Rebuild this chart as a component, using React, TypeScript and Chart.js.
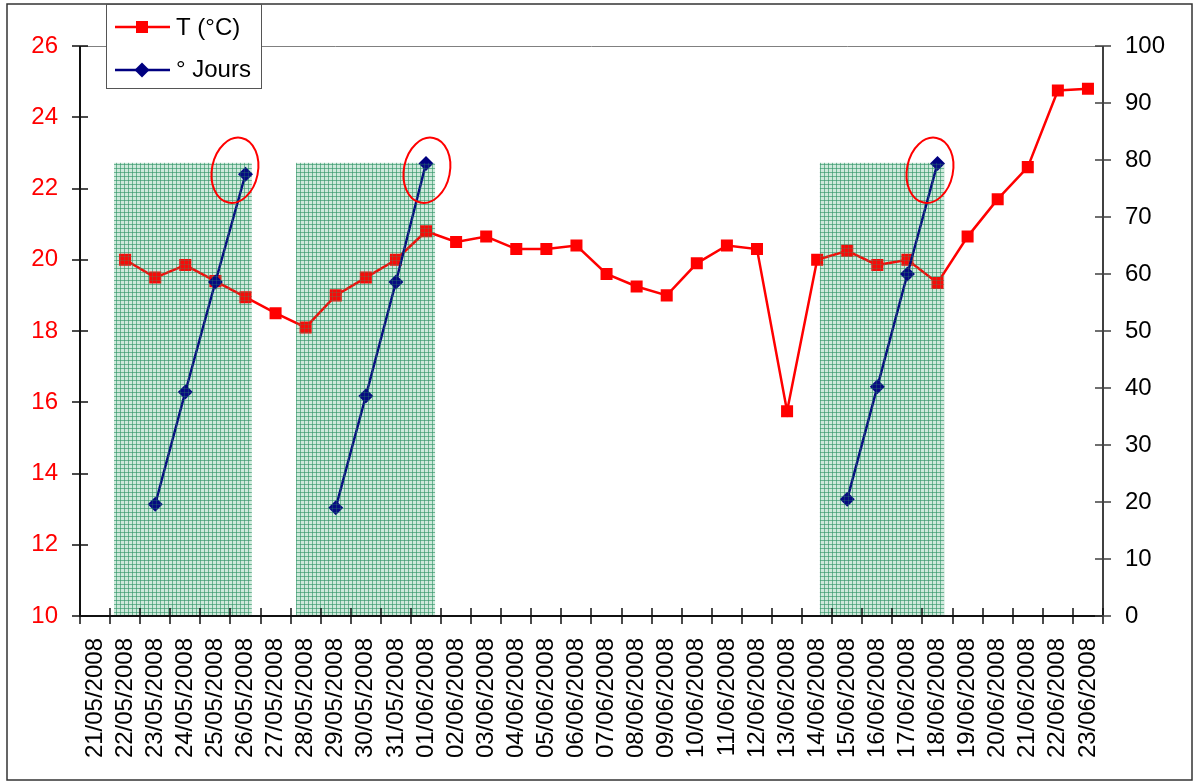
import { useEffect, useRef } from "react";
import { Chart, registerables } from "chart.js";

Chart.register(...registerables);

// Daily dates shown on the category axis
const dates = [
  "21/05/2008", "22/05/2008", "23/05/2008", "24/05/2008", "25/05/2008", "26/05/2008",
  "27/05/2008", "28/05/2008", "29/05/2008", "30/05/2008", "31/05/2008", "01/06/2008",
  "02/06/2008", "03/06/2008", "04/06/2008", "05/06/2008", "06/06/2008", "07/06/2008",
  "08/06/2008", "09/06/2008", "10/06/2008", "11/06/2008", "12/06/2008", "13/06/2008",
  "14/06/2008", "15/06/2008", "16/06/2008", "17/06/2008", "18/06/2008", "19/06/2008",
  "20/06/2008", "21/06/2008", "22/06/2008", "23/06/2008",
];

// Mean daily temperature, °C (left axis)
const temperature = [
  null, 20.0, 19.5, 19.85, 19.4, 18.95, 18.5, 18.1, 19.0, 19.5, 20.0, 20.8,
  20.5, 20.65, 20.3, 20.3, 20.4, 19.6, 19.25, 19.0, 19.9, 20.4, 20.3, 15.75,
  20.0, 20.25, 19.85, 20.0, 19.35, 20.65, 21.7, 22.6, 24.75, 24.8,
];

// Accumulated degree-days over each period (right axis)
const degreeDays = [
  null, null, 19.6, 39.3, 58.6, 77.5, null, null, 19.0, 38.6, 58.6, 79.4,
  null, null, null, null, null, null, null, null, null, null, null, null,
  null, 20.5, 40.2, 60.0, 79.4, null, null, null, null, null,
];

// Shaded periods: [start, end] in category positions, top on the right axis
const shadedPeriods = [
  [0.63, 5.21],
  [6.68, 11.3],
  [24.09, 28.22],
];
const shadedTop = 79.5;

// Circled peaks: [category position, right-axis value]
const circledPeaks = [
  [4.65, 78.2],
  [11.03, 78.2],
  [27.75, 78.2],
];

const leftTickValues = [10, 12, 14, 16, 18, 20, 22, 24, 26];
const rightTickValues = [0, 10, 20, 30, 40, 50, 60, 70, 80, 90, 100];

const FONT = "'Liberation Sans', Arial, sans-serif";
const RED = "#ff0000";
const NAVY = "#000080";

function makeHatch(ctx: CanvasRenderingContext2D, tint: string, line: string) {
  const tile = document.createElement("canvas");
  tile.width = 4;
  tile.height = 4;
  const g = tile.getContext("2d")!;
  g.fillStyle = tint;
  g.fillRect(0, 0, 4, 4);
  g.fillStyle = line;
  g.fillRect(0, 0, 1, 4);
  g.fillRect(0, 0, 4, 1);
  return ctx.createPattern(tile, "repeat");
}

function shadePixels(chart: any) {
  const { chartArea: a, scales } = chart;
  const c0 = scales.x.getPixelForValue(0);
  const step = scales.x.getPixelForValue(1) - c0;
  const xAt = (v: number) => c0 + v * step;
  const top = scales.y1.getPixelForValue(shadedTop);
  return shadedPeriods.map(([s, e]) => [xAt(s), top, xAt(e) - xAt(s), a.bottom - top]);
}

const decorations = {
  id: "decorations",
  beforeDatasetsDraw(chart: any) {
    const { ctx } = chart;
    ctx.save();
    const hatch = makeHatch(ctx, "rgba(125,195,160,0.34)", "rgba(50,150,105,0.5)");
    if (hatch) ctx.fillStyle = hatch;
    shadePixels(chart).forEach(([x, y, w, h]) => ctx.fillRect(x, y, w, h));
    ctx.restore();
  },
  afterDatasetsDraw(chart: any) {
    const { ctx, chartArea: a, scales } = chart;
    const x = scales.x;
    const yl = scales.y;
    const yr = scales.y1;
    const c0 = x.getPixelForValue(0);
    const step = x.getPixelForValue(1) - c0;
    const xAt = (v: number) => c0 + v * step;

    ctx.save();

    // light texture over the marks inside the shaded periods
    const overlay = makeHatch(ctx, "rgba(120,195,155,0.06)", "rgba(45,150,100,0.28)");
    if (overlay) ctx.fillStyle = overlay;
    shadePixels(chart).forEach(([px, py, w, h]) => ctx.fillRect(px, py, w, h));

    // circled peaks
    ctx.strokeStyle = RED;
    ctx.lineWidth = 2;
    circledPeaks.forEach(([i, v]) => {
      ctx.beginPath();
      ctx.ellipse(xAt(i), yr.getPixelForValue(v), 23, 33, 0.2, 0, Math.PI * 2);
      ctx.stroke();
    });

    // plot frame: top line
    ctx.lineWidth = 1;
    ctx.strokeStyle = "#808080";
    ctx.beginPath();
    ctx.moveTo(a.left, Math.round(a.top) + 0.5);
    ctx.lineTo(a.right, Math.round(a.top) + 0.5);
    ctx.stroke();

    // axes
    ctx.lineWidth = 2;
    ctx.strokeStyle = "#111";
    ctx.beginPath();
    ctx.moveTo(a.left, a.top);
    ctx.lineTo(a.left, a.bottom);
    ctx.lineTo(a.right, a.bottom);
    ctx.stroke();
    ctx.strokeStyle = "#404040";
    ctx.beginPath();
    ctx.moveTo(a.right, a.top);
    ctx.lineTo(a.right, a.bottom);
    ctx.stroke();

    // crossing tick marks
    ctx.lineWidth = 1.5;
    ctx.strokeStyle = "#111";
    ctx.beginPath();
    for (let i = 0; i <= dates.length; i++) {
      const px = Math.round(xAt(i - 0.5));
      ctx.moveTo(px, a.bottom - 8);
      ctx.lineTo(px, a.bottom + 8);
    }
    leftTickValues.forEach((v) => {
      const py = Math.round(yl.getPixelForValue(v));
      ctx.moveTo(a.left - 8, py);
      ctx.lineTo(a.left + 8, py);
    });
    ctx.stroke();
    ctx.strokeStyle = "#404040";
    ctx.beginPath();
    rightTickValues.forEach((v) => {
      const py = Math.round(yr.getPixelForValue(v));
      ctx.moveTo(a.right - 8, py);
      ctx.lineTo(a.right + 8, py);
    });
    ctx.stroke();

    // outer frame
    ctx.lineWidth = 1.5;
    ctx.strokeStyle = "#333";
    ctx.strokeRect(7, 4, 1185, 776);

    // legend
    const lx = 106, ly = 4, lw = 155, lh = 84;
    ctx.fillStyle = "#fff";
    ctx.fillRect(lx, ly, lw, lh);
    ctx.lineWidth = 1;
    ctx.strokeStyle = "#555";
    ctx.strokeRect(lx + 0.5, ly + 0.5, lw, lh);

    ctx.lineWidth = 2.5;
    ctx.strokeStyle = RED;
    ctx.beginPath();
    ctx.moveTo(115, 27);
    ctx.lineTo(170, 27);
    ctx.stroke();
    ctx.fillStyle = RED;
    ctx.fillRect(136, 21, 12, 12);

    ctx.strokeStyle = NAVY;
    ctx.beginPath();
    ctx.moveTo(115, 70);
    ctx.lineTo(170, 70);
    ctx.stroke();
    ctx.fillStyle = NAVY;
    ctx.beginPath();
    ctx.moveTo(142, 62.5);
    ctx.lineTo(149.5, 70);
    ctx.lineTo(142, 77.5);
    ctx.lineTo(134.5, 70);
    ctx.closePath();
    ctx.fill();

    ctx.fillStyle = "#000";
    ctx.font = `24px ${FONT}`;
    ctx.textBaseline = "middle";
    ctx.textAlign = "left";
    ctx.fillText("T (°C)", 176, 28);
    ctx.fillText("° Jours", 176, 70);

    ctx.restore();
  },
};

export default function App() {
  const canvasRef = useRef<HTMLCanvasElement | null>(null);

  useEffect(() => {
    const canvas = canvasRef.current;
    if (!canvas) return;
    const hiddenGrid = {
      display: true,
      drawOnChartArea: false,
      drawTicks: true,
      tickLength: 9,
      color: "rgba(0,0,0,0)",
    };
    const chart = new Chart(canvas, {
      type: "line",
      data: {
        labels: dates,
        datasets: [
          {
            label: "T (°C)",
            data: temperature,
            yAxisID: "y",
            order: 2,
            borderColor: RED,
            backgroundColor: RED,
            borderWidth: 2.5,
            pointStyle: "rect",
            pointRadius: 8.5,
            pointBorderWidth: 0,
            pointBackgroundColor: RED,
            tension: 0,
            spanGaps: false,
          },
          {
            label: "° Jours",
            data: degreeDays,
            yAxisID: "y1",
            order: 1,
            borderColor: NAVY,
            backgroundColor: NAVY,
            borderWidth: 2.5,
            pointStyle: "rectRot",
            pointRadius: 7.5,
            pointBorderWidth: 0,
            pointBackgroundColor: NAVY,
            tension: 0,
            spanGaps: false,
          },
        ],
      },
      options: {
        responsive: false,
        animation: false,
        devicePixelRatio: 1,
        layout: { padding: { top: 46, left: 0, right: 0, bottom: 0 } },
        plugins: {
          legend: { display: false },
          tooltip: { enabled: false },
        },
        scales: {
          x: {
            type: "category",
            offset: true,
            grid: hiddenGrid,
            border: { display: false },
            ticks: {
              autoSkip: false,
              minRotation: 90,
              maxRotation: 90,
              padding: 13,
              color: "#000",
              font: { family: FONT, size: 24 },
            },
            afterFit: (s: any) => {
              s.height = 168;
            },
          },
          y: {
            position: "left",
            min: 10,
            max: 26,
            grid: hiddenGrid,
            border: { display: false },
            ticks: {
              stepSize: 2,
              padding: 13,
              color: RED,
              font: { family: FONT, size: 24 },
            },
            afterFit: (s: any) => {
              s.width = 80;
            },
          },
          y1: {
            position: "right",
            min: 0,
            max: 100,
            grid: hiddenGrid,
            border: { display: false },
            ticks: {
              stepSize: 10,
              padding: 13,
              color: "#000",
              font: { family: FONT, size: 24 },
            },
            afterFit: (s: any) => {
              s.width = 91;
            },
          },
        },
      },
      plugins: [decorations],
    } as any);
    return () => chart.destroy();
  }, []);

  return (
    <div style={{ position: "absolute", left: 0, top: 0, width: 1194, height: 784, background: "#fff" }}>
      <canvas ref={canvasRef} width={1194} height={784} style={{ display: "block", width: 1194, height: 784 }} />
    </div>
  );
}
